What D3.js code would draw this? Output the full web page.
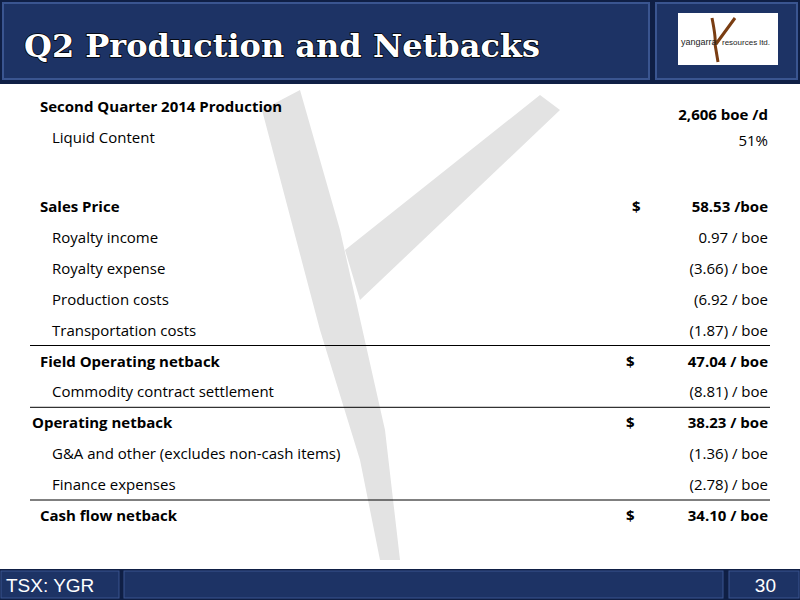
<!DOCTYPE html>
<html><head><meta charset="utf-8">
<script src="https://cdn.jsdelivr.net/npm/d3@7"></script>
<style>body{margin:0;background:#fff}svg{display:block}</style>
</head><body>
<svg id="slide" width="800" height="600"></svg>
<script>
// rows of the netback table
var labels = ['Second Quarter 2014 Production', 'Liquid Content', '', 'Sales Price', 'Royalty income',
    'Royalty expense', 'Production costs', 'Transportation costs', 'Field Operating netback',
    'Commodity contract settlement', 'Operating netback', 'G&A and other (excludes non-cash items)',
    'Finance expenses', 'Cash flow netback'];
var values = ['2,606 boe /d', '51%', '', '58.53  /boe', '0.97  / boe', '(3.66) / boe', '(6.92 / boe',
    '(1.87) / boe', '47.04  / boe', '(8.81) / boe', '38.23  / boe', '(1.36) / boe', '(2.78) / boe', '34.10  / boe'];
var level = [0, 1, 1, 0, 1, 1, 1, 1, 0, 1, -1, 1, 1, 0];
var dollar = [3, 8, 10, 13];
var ruleAbove = [8, 10, 13];

var svg = d3.select('#slide');
var blue = '#1d3365';

// header
svg.append('rect').attr('width', 800).attr('height', 84).attr('fill', '#0f1f45');
svg.append('rect').attr('x', 3).attr('y', 3).attr('width', 646).attr('height', 76).attr('fill', blue)
    .attr('stroke', '#3a5590').attr('stroke-width', 2);
svg.append('rect').attr('x', 656).attr('y', 3).attr('width', 141).attr('height', 76).attr('fill', blue)
    .attr('stroke', '#3a5590').attr('stroke-width', 2);
svg.append('text').attr('x', 24).attr('y', 57).text('Q2 Production and Netbacks')
    .attr('font-family', 'DejaVu Serif').attr('font-weight', 'bold').attr('font-size', 32)
    .attr('fill', '#fff').attr('stroke', '#000').attr('stroke-width', 1.5).attr('paint-order', 'stroke');
svg.append('rect').attr('x', 678).attr('y', 13).attr('width', 100).attr('height', 52).attr('fill', '#fff');
svg.append('path').attr('d', 'M712,18 Q716,38 715,44 L718,62 M716,44 L735,18')
    .attr('stroke', '#7a3d12').attr('stroke-width', 3).attr('fill', 'none');
svg.append('text').attr('x', 681).attr('y', 45).text('yangarra').attr('font-family', 'Liberation Sans Narrow, Liberation Sans')
    .attr('font-size', 9).attr('fill', '#222');
svg.append('text').attr('x', 722).attr('y', 45).text('resources ltd.').attr('font-family', 'Liberation Sans Narrow, Liberation Sans')
    .attr('font-size', 8).attr('fill', '#222');

// watermark
svg.append('path')
    .attr('d', 'M262,110 L300,90 L340,230 L385,430 L400,560 L380,560 L360,460 L320,330 Z M345,250 L540,95 L560,110 L360,300 Z')
    .attr('fill', '#e3e3e3');

// table
var yLin = d3.scaleLinear().domain([3, 13]).range([207, 516]);
function y(i) { return yLin(i) - (i < 3 ? 7 : 0); }
var rows = svg.append('g').attr('font-family', 'Open Sans').attr('font-size', 15).attr('fill', '#000');
rows.selectAll('text.lab').data(labels).enter().append('text')
    .attr('x', function(d, i) { return level[i] === 1 ? 52 : level[i] === 0 ? 40 : 32; })
    .attr('y', function(d, i) { return y(i) + 5; })
    .attr('font-weight', function(d, i) { return level[i] === 1 ? 'normal' : 'bold'; })
    .text(function(d) { return d; });
rows.selectAll('text.val').data(values).enter().append('text')
    .attr('x', 768).attr('text-anchor', 'end')
    .attr('y', function(d, i) { return y(i) + 5 + (i === 0 ? 8 : i === 1 ? 3 : 0); })
    .attr('font-weight', function(d, i) { return level[i] === 1 ? 'normal' : 'bold'; })
    .text(function(d) { return d; });
rows.selectAll('text.dol').data(dollar).enter().append('text')
    .attr('x', function(d) { return d === 3 ? 632 : 626; })
    .attr('y', function(d) { return y(d) + 5; })
    .attr('font-weight', 'bold').text('$');
svg.selectAll('line.rule').data(ruleAbove).enter().append('line')
    .attr('x1', 30).attr('x2', 770)
    .attr('y1', function(d) { return y(d) - 16; }).attr('y2', function(d) { return y(d) - 16; })
    .attr('stroke', '#000').attr('stroke-width', 1);

// footer
svg.append('rect').attr('y', 569).attr('width', 800).attr('height', 31).attr('fill', '#0f1f45');
[[0, 120], [123, 601], [728, 72]].forEach(function(b) {
    svg.append('rect').attr('x', b[0] + 1).attr('y', 571).attr('width', b[1] - 2).attr('height', 27)
        .attr('fill', blue).attr('stroke', '#3a5590');
});
svg.append('text').attr('x', 6).attr('y', 592).text('TSX: YGR').attr('font-family', 'Liberation Sans Narrow, Liberation Sans')
    .attr('font-size', 19).attr('fill', '#fff');
svg.append('text').attr('x', 776).attr('y', 592).attr('text-anchor', 'end').text('30')
    .attr('font-family', 'Liberation Sans Narrow, Liberation Sans').attr('font-size', 19).attr('fill', '#fff');
</script>
</body></html>
